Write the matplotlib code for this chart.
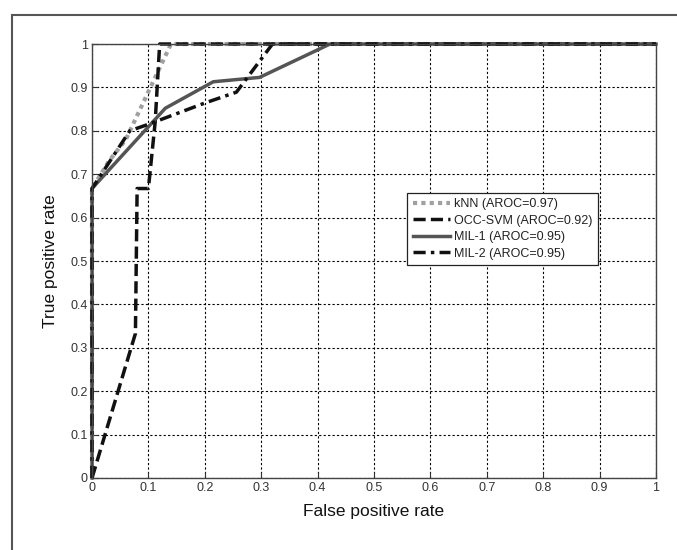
import matplotlib
matplotlib.use("Agg")
import matplotlib.pyplot as plt
from matplotlib.patches import Rectangle

plt.rcParams['font.family'] = ['Liberation Sans', 'DejaVu Sans']

# ROC curves
knn_fpr = [0, 0, 0.03, 0.06, 0.10, 0.14, 1]
knn_tpr = [0, 0.667, 0.73, 0.78, 0.89, 1.0, 1.0]

occ_fpr = [0, 0.077, 0.08, 0.10, 0.112, 0.12, 1]
occ_tpr = [0, 0.333, 0.667, 0.667, 0.82, 1.0, 1.0]

mil1_fpr = [0, 0, 0.13, 0.215, 0.297, 0.422, 1]
mil1_tpr = [0, 0.667, 0.852, 0.913, 0.923, 1.0, 1.0]

mil2_fpr = [0, 0, 0.067, 0.10, 0.20, 0.256, 0.32, 1]
mil2_tpr = [0, 0.667, 0.80, 0.815, 0.864, 0.889, 1.0, 1.0]

labels = ['kNN (AROC=0.97)', 'OCC-SVM (AROC=0.92)', 'MIL-1 (AROC=0.95)', 'MIL-2 (AROC=0.95)']
ticks = [0, 0.1, 0.2, 0.3, 0.4, 0.5, 0.6, 0.7, 0.8, 0.9, 1]
tick_labels = ['0', '0.1', '0.2', '0.3', '0.4', '0.5', '0.6', '0.7', '0.8', '0.9', '1']

fig = plt.figure(figsize=(6.77, 5.5), dpi=100)
ax = fig.add_axes([92 / 677, 72 / 550, 564 / 677, 434 / 550])

# outer frame (cut off at right/bottom like the picture)
fig.patches.append(Rectangle((12 / 677, -0.1), 1.0, (535 / 550) + 0.1,
                             transform=fig.transFigure, fill=False,
                             edgecolor='#555555', linewidth=1.5))

ax.plot(knn_fpr, knn_tpr, color='#a0a0a0', linewidth=3, linestyle=(0, (1, 1)),
        label=labels[0], clip_on=False)
ax.plot(occ_fpr, occ_tpr, color='#111111', linewidth=2.5, linestyle=(0, (3.5, 1.5)),
        label=labels[1], clip_on=False)
ax.plot(mil1_fpr, mil1_tpr, color='#555555', linewidth=2.5, linestyle='-',
        label=labels[2], clip_on=False)
ax.plot(mil2_fpr, mil2_tpr, color='#111111', linewidth=2.5, linestyle=(0, (3.5, 1.5, 1, 1.5)),
        label=labels[3], clip_on=False)

ax.set_xlim(0, 1)
ax.set_ylim(0, 1)
ax.set_xticks(ticks)
ax.set_xticklabels(tick_labels)
ax.set_yticks(ticks)
ax.set_yticklabels(tick_labels)
ax.tick_params(direction='in', length=4, labelsize=9, colors='#333333', pad=3)
ax.grid(True, color='black', linestyle=(0, (2, 2)), linewidth=0.8)
for s in ax.spines.values():
    s.set_color('#444444')
    s.set_linewidth(1.0)

ax.set_xlabel('False positive rate', fontsize=12.5, color='#111111', labelpad=7)
ax.set_ylabel('True positive rate', fontsize=12.5, color='#111111', labelpad=9)

leg = ax.legend(loc='upper left', bbox_to_anchor=(0.559, 0.657), fontsize=9,
                fancybox=False, framealpha=1, edgecolor='#222222',
                handlelength=3.0, handletextpad=0.25, borderpad=0.45,
                labelspacing=0.35, borderaxespad=0)
leg.get_frame().set_linewidth(0.9)
for t in leg.get_texts():
    t.set_color('#222222')

fig.savefig('out.png', dpi=100)
